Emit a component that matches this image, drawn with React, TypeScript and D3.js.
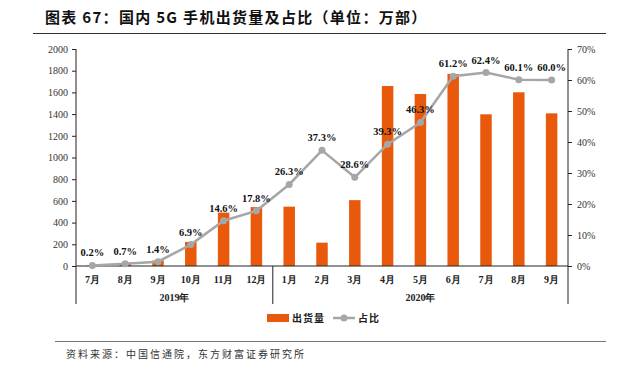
import React, { useRef, useEffect } from "react";
import * as d3 from "d3";

// months shown on the lower axis, grouped by year
const months = ["7月", "8月", "9月", "10月", "11月", "12月", "1月", "2月", "3月", "4月", "5月", "6月", "7月", "8月", "9月"];
const yearLabels = ["2019年", "2020年"];
const yearSpans = [[0, 5], [6, 14]];

// 出货量 (万部)
const shipments = [3, 22, 50, 222, 492, 543, 547, 215, 607, 1659, 1585, 1770, 1398, 1601, 1407];
// 占比 (%)
const share = [0.2, 0.7, 1.4, 6.9, 14.6, 17.8, 26.3, 37.3, 28.6, 39.3, 46.3, 61.2, 62.4, 60.1, 60.0];

const leftTicks = [0, 200, 400, 600, 800, 1000, 1200, 1400, 1600, 1800, 2000];
const rightTicks = [0, 10, 20, 30, 40, 50, 60, 70];

const BAR = "#E8590C";
const LINE = "#A6A6A6";
const serif = "'Liberation Serif', 'Times New Roman', serif";
const cjk = "'Noto Sans CJK SC', sans-serif";

function App() {
  const ref = useRef<SVGSVGElement>(null);

  useEffect(() => {
    const svg = d3.select(ref.current);
    svg.selectAll("*").remove();

    const left = 76, right = 568, top = 49, bottom = 266;

    const x = d3.scaleBand<number>().domain(d3.range(months.length)).range([left, right]).padding(0);
    const yL = d3.scaleLinear().domain([0, 2000]).range([bottom, top]);
    const yR = d3.scaleLinear().domain([0, 70]).range([bottom, top]);

    // title
    svg.append("text")
      .attr("x", 45).attr("y", 23)
      .attr("font-family", cjk).attr("font-weight", "bold").attr("font-size", 15)
      .attr("letter-spacing", 1.3)
      .attr("fill", "#111")
      .text("图表 67：国内 5G 手机出货量及占比（单位：万部）");
    svg.append("line")
      .attr("x1", 33).attr("x2", 606).attr("y1", 33.5).attr("y2", 33.5)
      .attr("stroke", "#333").attr("stroke-width", 1);

    // bars
    const bw = x.bandwidth() * 0.35;
    svg.append("g").selectAll("rect")
      .data(shipments)
      .join("rect")
      .attr("x", (d, i) => x(i)! + x.bandwidth() / 2 - bw / 2)
      .attr("y", d => yL(d))
      .attr("width", bw)
      .attr("height", d => yL(0) - yL(d))
      .attr("fill", BAR);

    // left axis
    const gl = svg.append("g").attr("transform", `translate(${left},0)`)
      .call(d3.axisLeft(yL).tickValues(leftTicks).tickFormat(d3.format("d")).tickSize(4).tickPadding(4));
    gl.select(".domain").attr("d", `M0,${top}V${bottom}`).attr("stroke", "#222");
    gl.selectAll("line").attr("stroke", "#222");
    gl.selectAll("text").attr("font-family", serif).attr("font-size", 10).attr("fill", "#333");

    // right axis
    const gr = svg.append("g").attr("transform", `translate(${right},0)`)
      .call(d3.axisRight(yR).tickValues(rightTicks).tickFormat(d => `${d}%`).tickSize(4).tickPadding(5));
    gr.select(".domain").attr("d", `M0,${top}V${bottom}`).attr("stroke", "#222");
    gr.selectAll("line").attr("stroke", "#222");
    gr.selectAll("text").attr("font-family", serif).attr("font-size", 10).attr("fill", "#333");

    // baseline
    svg.append("line")
      .attr("x1", left).attr("x2", right).attr("y1", bottom).attr("y2", bottom)
      .attr("stroke", "#222");

    // group dividers
    const divs = [left, x(6)!, right];
    svg.append("g").selectAll("line")
      .data(divs)
      .join("line")
      .attr("x1", d => d).attr("x2", d => d)
      .attr("y1", bottom).attr("y2", 304)
      .attr("stroke", "#222");

    // month labels
    svg.append("g").selectAll("text")
      .data(months)
      .join("text")
      .attr("x", (d, i) => x(i)! + x.bandwidth() / 2)
      .attr("y", 283)
      .attr("text-anchor", "middle")
      .attr("font-family", serif).attr("font-weight", "bold").attr("font-size", 10)
      .attr("fill", "#222")
      .text(d => d);

    // year labels
    svg.append("g").selectAll("text")
      .data(yearLabels)
      .join("text")
      .attr("x", (d, i) => (x(yearSpans[i][0])! + x(yearSpans[i][1])! + x.bandwidth()) / 2)
      .attr("y", 301)
      .attr("text-anchor", "middle")
      .attr("font-family", serif).attr("font-weight", "bold").attr("font-size", 10)
      .attr("fill", "#222")
      .text(d => d);

    // share line
    const cx = (i: number) => x(i)! + x.bandwidth() / 2;
    const line = d3.line<number>().x((d, i) => cx(i)).y(d => yR(d));
    svg.append("path")
      .datum(share)
      .attr("fill", "none")
      .attr("stroke", LINE)
      .attr("stroke-width", 2.5)
      .attr("d", line);
    svg.append("g").selectAll("circle")
      .data(share)
      .join("circle")
      .attr("cx", (d, i) => cx(i))
      .attr("cy", d => yR(d))
      .attr("r", 3.5)
      .attr("fill", LINE);

    // data labels
    svg.append("g").selectAll("text")
      .data(share)
      .join("text")
      .attr("x", (d, i) => cx(i))
      .attr("y", d => yR(d) - 9)
      .attr("text-anchor", "middle")
      .attr("font-family", serif).attr("font-weight", "bold").attr("font-size", 10.5)
      .attr("fill", "#111")
      .text(d => `${d.toFixed(1)}%`);

    // legend
    const lg = svg.append("g");
    lg.append("rect").attr("x", 267).attr("y", 314).attr("width", 22).attr("height", 8).attr("fill", BAR);
    lg.append("text").attr("x", 292).attr("y", 322)
      .attr("font-family", cjk).attr("font-weight", "bold").attr("font-size", 10).attr("letter-spacing", 1)
      .attr("fill", "#222")
      .text("出货量");
    lg.append("line").attr("x1", 333).attr("x2", 355).attr("y1", 318).attr("y2", 318)
      .attr("stroke", LINE).attr("stroke-width", 2.5);
    lg.append("circle").attr("cx", 344).attr("cy", 318).attr("r", 3.5).attr("fill", LINE);
    lg.append("text").attr("x", 358).attr("y", 322)
      .attr("font-family", cjk).attr("font-weight", "bold").attr("font-size", 10).attr("letter-spacing", 1)
      .attr("fill", "#222")
      .text("占比");

    // source
    svg.append("line")
      .attr("x1", 55).attr("x2", 606).attr("y1", 341.5).attr("y2", 341.5)
      .attr("stroke", "#777").attr("stroke-width", 1);
    svg.append("text")
      .attr("x", 66).attr("y", 358)
      .attr("font-family", cjk).attr("font-size", 10).attr("letter-spacing", 2)
      .attr("fill", "#333")
      .text("资料来源：中国信通院，东方财富证券研究所");
  }, []);

  return (
    <svg
      ref={ref}
      width={638}
      height={373}
      style={{ position: "absolute", left: 0, top: 0, background: "#fff" }}
    />
  );
}

export default App;
